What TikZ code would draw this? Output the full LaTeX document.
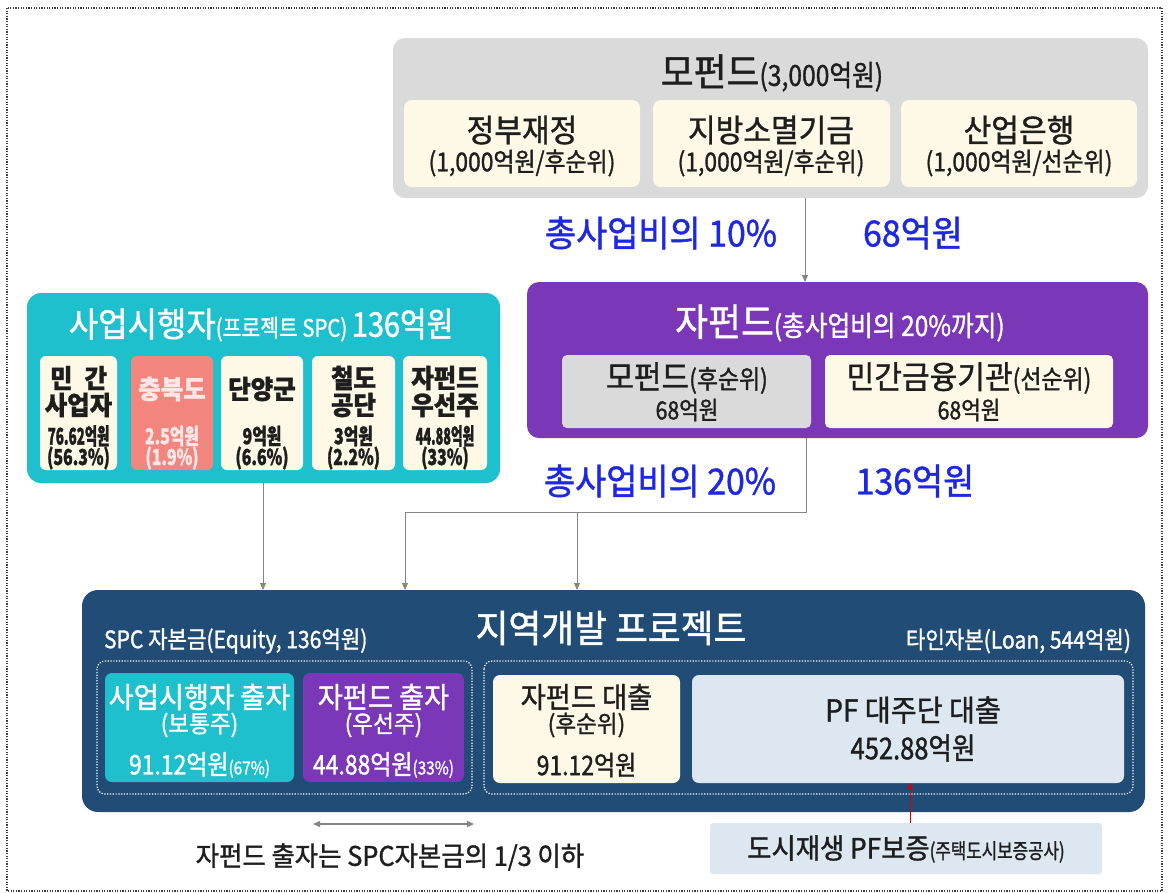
\documentclass[tikz,border=0pt]{standalone}
\usepackage{fontspec}
\setmainfont{Noto Sans CJK KR}[FakeStretch=0.94,FakeBold=1.2]
\usetikzlibrary{calc,arrows.meta}
\definecolor{mfgray}{HTML}{DADADA}
\definecolor{cream}{HTML}{FEF8E6}
\definecolor{teal}{HTML}{1FC0CE}
\definecolor{purp}{HTML}{7A37B8}
\definecolor{salmon}{HTML}{F2867F}
\definecolor{navy}{HTML}{214C75}
\definecolor{lblue}{HTML}{DDE7F2}
\definecolor{bluetxt}{HTML}{1E28E0}
\definecolor{arrgray}{HTML}{858585}
\definecolor{ink}{HTML}{1E1E1E}
\definecolor{pinktxt}{HTML}{FDE6E6}
\newcommand\myfs[1]{\fontsize{#1}{#1}\selectfont}
\newcommand\narrow[1]{\addfontfeature{FakeStretch=#1}}
\begin{document}
\begin{tikzpicture}[x=1pt,y=-1pt,
  box/.style={rounded corners=8pt, inner sep=0pt, outer sep=0pt, anchor=north west, draw=none},
  txt/.style={inner sep=0pt, outer sep=0pt, text=ink},
  wtxt/.style={inner sep=0pt, outer sep=0pt, text=white},
  btxt/.style={inner sep=0pt, outer sep=0pt, text=bluetxt},
  arr/.style={draw=arrgray, line width=0.9pt, -{Triangle[length=7pt,width=6pt]}},
  dotbox/.style={draw=white, line width=1.2pt, dash pattern=on 1.2pt off 1.6pt, rounded corners=8pt}
]
\useasboundingbox[fill=white] (0,0) rectangle (1169,892);
\draw[draw=black!75, line width=1.2pt, dash pattern=on 1.2pt off 1.4pt] (7,8) rectangle (1162,891);

% ---------- Mother fund ----------
\node[box, fill=mfgray, minimum width=755pt, minimum height=160pt, rounded corners=12pt] (mf) at (393,38) {};
\node[txt] (mft) at (772,73) {\myfs{38}모펀드\narrow{0.85}\myfs{29}(3,000억원)};
\node[box, fill=cream, minimum width=236pt, minimum height=87pt] (mf1) at (404,100) {};
\node[box, fill=cream, minimum width=237pt, minimum height=87pt] (mf2) at (653,100) {};
\node[box, fill=cream, minimum width=236pt, minimum height=87pt] (mf3) at (901,100) {};
\node[txt] (mf1a) at (522,130) {\myfs{32}정부재정};
\node[txt] (mf1b) at (522,163) {\narrow{0.88}\myfs{26}(1,000억원/후순위)};
\node[txt] (mf2a) at (771,130) {\myfs{32}지방소멸기금};
\node[txt] (mf2b) at (771,163) {\narrow{0.88}\myfs{26}(1,000억원/후순위)};
\node[txt] (mf3a) at (1019,130) {\myfs{32}산업은행};
\node[txt] (mf3b) at (1019,163) {\narrow{0.88}\myfs{26}(1,000억원/선순위)};
\node[btxt] (b1) at (661,233) {\myfs{36}총사업비의 10\%};
\node[btxt] (b2) at (913,233) {\myfs{36}68억원};

% ---------- Child fund ----------
\node[box, fill=purp, minimum width=621pt, minimum height=156pt, rounded corners=12pt] (jf) at (527,282) {};
\node[wtxt] (jft) at (840,323) {\myfs{38}자펀드\narrow{0.88}\myfs{28}(총사업비의 20\%까지)};
\node[box, fill=mfgray, minimum width=249pt, minimum height=73pt, rounded corners=5pt] (jf1) at (562,355) {};
\node[box, fill=cream, minimum width=288pt, minimum height=73pt, rounded corners=5pt] (jf2) at (825,355) {};
\node[txt] (jf1a) at (687,378) {\myfs{32}모펀드\narrow{0.88}\myfs{26}(후순위)};
\node[txt] (jf1b) at (687,410) {\narrow{0.85}\myfs{25}68억원};
\node[txt] (jf2a) at (969,378) {\myfs{32}민간금융기관\narrow{0.88}\myfs{26}(선순위)};
\node[txt] (jf2b) at (969,410) {\narrow{0.85}\myfs{25}68억원};
\node[btxt] (b3) at (660,481) {\myfs{36}총사업비의 20\%};
\node[btxt] (b4) at (915,481) {\myfs{36}136억원};

% ---------- SPC ----------
\node[box, fill=teal, minimum width=473pt, minimum height=190pt, rounded corners=14pt] (spc) at (27,293) {};
\node[wtxt] (spct) at (261,325) {\myfs{34}사업시행자\narrow{0.85}\myfs{24}(프로젝트 SPC) \myfs{34}136억원};
\node[box, fill=cream, minimum width=77pt, minimum height=114pt, rounded corners=6pt] (s1) at (40,356) {};
\node[box, fill=salmon, minimum width=82pt, minimum height=114pt, rounded corners=6pt] (s2) at (131,356) {};
\node[box, fill=cream, minimum width=82pt, minimum height=114pt, rounded corners=6pt] (s3) at (221,356) {};
\node[box, fill=cream, minimum width=83pt, minimum height=114pt, rounded corners=6pt] (s4) at (312,356) {};
\node[box, fill=cream, minimum width=84pt, minimum height=114pt, rounded corners=6pt] (s5) at (403,356) {};
\node[txt] (s1a) at (78.5,378) {\myfs{26}\bfseries 민\hspace{12pt}간};
\node[txt] (s1b) at (78.5,405) {\myfs{26}\bfseries 사업자};
\node[txt] (s1c) at (78.5,436) {\narrow{0.58}\myfs{23}\bfseries 76.62억원};
\node[txt] (s1d) at (78.5,458) {\narrow{0.72}\myfs{22}\bfseries (56.3\%)};
\node[txt, text=pinktxt] (s2a) at (172,389) {\myfs{26}\bfseries 충북도};
\node[txt, text=pinktxt] (s2c) at (172,436) {\narrow{0.72}\myfs{22}\bfseries 2.5억원};
\node[txt, text=pinktxt] (s2d) at (172,458) {\narrow{0.72}\myfs{22}\bfseries (1.9\%)};
\node[txt] (s3a) at (262,389) {\myfs{26}\bfseries 단양군};
\node[txt] (s3c) at (262,436) {\narrow{0.72}\myfs{22}\bfseries 9억원};
\node[txt] (s3d) at (262,458) {\narrow{0.72}\myfs{22}\bfseries (6.6\%)};
\node[txt] (s4a) at (353.5,378) {\myfs{26}\bfseries 철도};
\node[txt] (s4b) at (353.5,405) {\myfs{26}\bfseries 공단};
\node[txt] (s4c) at (353.5,436) {\narrow{0.72}\myfs{22}\bfseries 3억원};
\node[txt] (s4d) at (353.5,458) {\narrow{0.72}\myfs{22}\bfseries (2.2\%)};
\node[txt] (s5a) at (445,378) {\myfs{26}\bfseries 자펀드};
\node[txt] (s5b) at (445,405) {\myfs{26}\bfseries 우선주};
\node[txt] (s5c) at (445,436) {\narrow{0.55}\myfs{23}\bfseries 44.88억원};
\node[txt] (s5d) at (445,458) {\narrow{0.72}\myfs{22}\bfseries (33\%)};

% ---------- Project ----------
\node[box, fill=navy, minimum width=1063pt, minimum height=222pt, rounded corners=16pt] (pj) at (82,590) {};
\node[wtxt] (pjt) at (611,628) {\myfs{38}지역개발 프로젝트};
\node[wtxt, anchor=west] (eqt) at (104,641) {\narrow{0.88}\myfs{24}SPC 자본금(Equity, 136억원)};
\node[wtxt, anchor=east] (lnt) at (1131,641) {\narrow{0.88}\myfs{24}타인자본(Loan, 544억원)};
\draw[dotbox] (97,661) rectangle (472,794);
\draw[dotbox] (484,661) rectangle (1133,794);
\node[box, fill=teal, minimum width=189pt, minimum height=109pt, rounded corners=7pt] (e1) at (105,673) {};
\node[box, fill=purp, minimum width=161pt, minimum height=109pt, rounded corners=7pt] (e2) at (303,673) {};
\node[box, fill=cream, minimum width=187pt, minimum height=108pt, rounded corners=7pt] (l1) at (493,675) {};
\node[box, fill=lblue, minimum width=432pt, minimum height=108pt, rounded corners=7pt] (l2) at (692,675) {};
\node[wtxt] (e1a) at (199.5,697) {\myfs{29}사업시행자 출자};
\node[wtxt] (e1b) at (199.5,725) {\myfs{24}(보통주)};
\node[wtxt] (e1c) at (199.5,765) {\narrow{0.85}\myfs{27}91.12억원\myfs{18}(67\%)};
\node[wtxt] (e2a) at (383.5,697) {\myfs{29}자펀드 출자};
\node[wtxt] (e2b) at (383.5,725) {\myfs{24}(우선주)};
\node[wtxt] (e2c) at (383.5,765) {\narrow{0.85}\myfs{27}44.88억원\myfs{18}(33\%)};
\node[txt] (l1a) at (586.5,697) {\myfs{29}자펀드 대출};
\node[txt] (l1b) at (586.5,725) {\myfs{24}(후순위)};
\node[txt] (l1c) at (586.5,765) {\narrow{0.85}\myfs{27}91.12억원};
\node[txt] (l2a) at (913,710) {\myfs{30}PF 대주단 대출};
\node[txt] (l2b) at (913,748) {\narrow{0.85}\myfs{30}452.88억원};

% ---------- Guarantee ----------
\node[box, fill=lblue, minimum width=392pt, minimum height=51pt, rounded corners=3pt] (gr) at (710,823) {};
\node[txt] (grt) at (906,849) {\myfs{28}도시재생 PF보증\narrow{0.8}\myfs{21}(주택도시보증공사)};
\node[txt] (note) at (390,857) {\myfs{27}자펀드 출자는 SPC자본금의 1/3 이하};

% ---------- Connectors ----------
\coordinate (c1) at (805,0);
\coordinate (c2) at (806,512);
\coordinate (c3) at (405,512);
\coordinate (c4) at (577,512);
\coordinate (c5) at (263,0);
\coordinate (c6) at (910,0);
\coordinate (d1) at (313,824);
\coordinate (d2) at (474,824);
\draw[arr] (mf.south -| c1) -- (jf.north -| c1);
\draw[arr] (spc.south -| c5) -- (pj.north -| c5);
\draw[draw=arrgray, line width=0.9pt] (jf.south -| c2) -- (c2) -- (c3);
\draw[arr] (c3) -- (pj.north -| c3);
\draw[arr] (c4) -- (pj.north -| c4);
\draw[draw=red!85!black, line width=1pt, -{Triangle[length=6pt,width=5pt]}] (gr.north -| c6) -- (l2.south -| c6);
\draw[draw=arrgray, line width=1.2pt, {Triangle[length=7pt,width=6pt]}-{Triangle[length=7pt,width=6pt]}] (d1) -- (d2);
\end{tikzpicture}
\end{document}
